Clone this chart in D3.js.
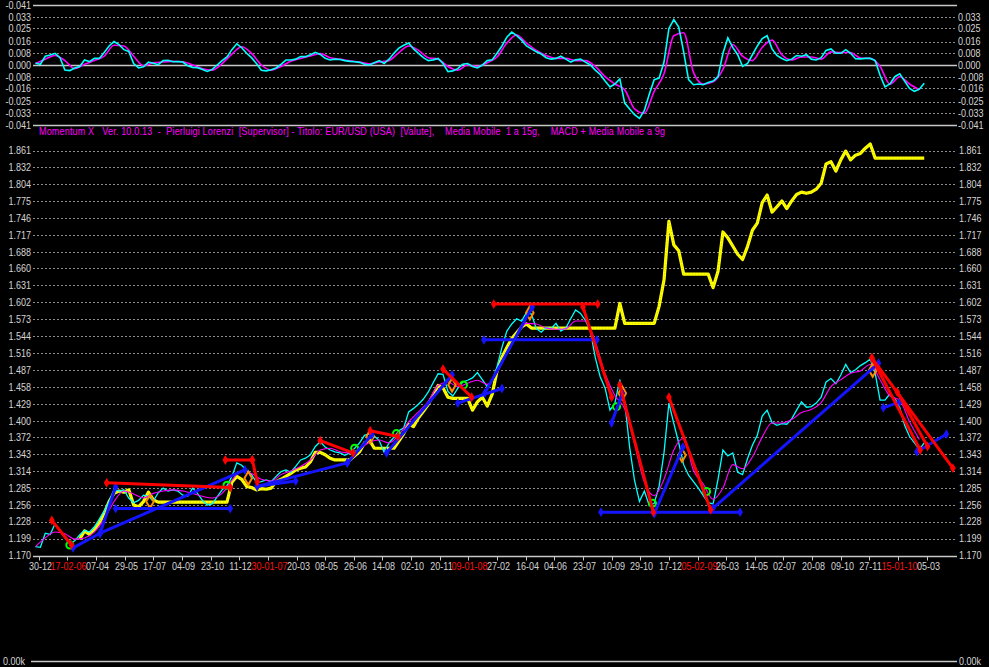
<!DOCTYPE html>
<html><head><meta charset="utf-8">
<script src="https://cdn.jsdelivr.net/npm/d3@7"></script>
<style>html,body{margin:0;padding:0;background:#000;overflow:hidden}svg{display:block}
text{font-family:"Liberation Sans",Arial,sans-serif;font-size:11px;white-space:pre}</style>
</head><body>
<svg id="c" width="989" height="667"></svg>
<script>
// ---------------- data ----------------
const titleText = "Momentum X   Ver. 10.0.13  -  Pierluigi Lorenzi  [Supervisor] - Titolo: EUR/USD (USA)  [Valute],    Media Mobile  1 a 15g,    MACD + Media Mobile a 9g";

const dateLabels = ["30-12","17-02-06","07-04","29-05","17-07","04-09","23-10","11-12","30-01-07","20-03","08-05","26-06","14-08","02-10","20-11","09-01-08","27-02","16-04","04-06","23-07","10-09","29-10","17-12","05-02-09","26-03","14-05","02-07","20-08","09-10","27-11","15-01-10","05-03"];
const TICK_START = 7, TICK_STEP = 35;          // sessions
const TOTAL_SESSIONS = 1129;
const SAMPLE_START = 3, SAMPLE_STEP = 6, MA_STEP = 12;

const priceTicks = [1.170,1.199,1.228,1.256,1.285,1.314,1.343,1.372,1.400,1.429,1.458,1.487,1.516,1.544,1.573,1.602,1.631,1.660,1.688,1.717,1.746,1.775,1.804,1.832,1.861];
const oscTicks = [0.041,0.033,0.025,0.016,0.008,0,-0.008,-0.016,-0.025,-0.033,-0.041];
const oscTickLabels = ["-0.041","0.033","0.025","0.016","0.008","0.000","-0.008","-0.016","-0.025","-0.033","-0.041"];

// EUR/USD close (cyan), one value every 6 sessions
const close = [
1.185,1.184,1.208,1.206,1.224,1.213,1.200,1.190,1.195,1.205,
1.213,1.210,1.219,1.232,1.246,1.262,1.283,1.280,1.282,1.268,
1.260,1.264,1.273,1.271,1.263,1.277,1.285,1.280,1.282,1.280,
1.273,1.271,1.285,1.276,1.264,1.256,1.258,1.270,1.282,1.289,
1.305,1.328,1.324,1.315,1.308,1.295,1.296,1.299,1.296,1.305,
1.313,1.316,1.312,1.322,1.333,1.336,1.342,1.356,1.364,1.355,
1.350,1.347,1.345,1.341,1.345,1.353,1.362,1.375,1.378,1.374,
1.366,1.346,1.362,1.372,1.383,1.388,1.415,1.421,1.428,1.437,
1.449,1.465,1.480,1.479,1.450,1.442,1.455,1.466,1.469,1.473,
1.482,1.470,1.458,1.468,1.492,1.525,1.553,1.565,1.574,1.570,
1.585,1.582,1.557,1.551,1.559,1.557,1.566,1.553,1.558,1.574,
1.589,1.583,1.571,1.553,1.508,1.475,1.456,1.418,1.430,1.470,
1.432,1.355,1.298,1.262,1.280,1.255,1.259,1.288,1.345,1.430,
1.395,1.362,1.325,1.307,1.296,1.285,1.272,1.260,1.258,1.300,
1.350,1.340,1.345,1.312,1.308,1.335,1.358,1.375,1.408,1.418,
1.397,1.392,1.395,1.394,1.403,1.418,1.432,1.423,1.424,1.430,
1.440,1.466,1.472,1.463,1.478,1.496,1.482,1.487,1.494,1.499,
1.505,1.481,1.435,1.435,1.446,1.438,1.423,1.392,1.373,1.362,
1.351,1.362];

// second instrument (thick yellow), same grid
const yellow = [
null,null,null,null,null,null,null,null,null,1.198,
1.212,1.206,1.214,1.226,1.242,1.262,1.276,1.280,1.278,1.282,
1.256,1.253,1.262,1.278,1.265,1.261,1.261,1.261,1.261,1.261,
1.261,1.261,1.261,1.261,1.261,1.261,1.261,1.261,1.261,1.261,
1.295,1.305,1.300,1.288,1.286,1.282,1.284,1.283,1.285,1.296,
1.300,1.305,1.310,1.316,1.319,1.321,1.330,1.346,1.346,1.342,
1.336,1.333,1.333,1.333,1.333,1.340,1.347,1.362,1.367,1.353,
1.353,1.353,1.353,1.353,1.365,1.378,1.394,1.390,1.405,1.416,
1.428,1.444,1.460,1.456,1.440,1.438,1.438,1.438,1.438,1.418,
1.432,1.440,1.425,1.445,1.485,1.508,1.525,1.540,1.550,1.560,
1.565,1.558,1.558,1.558,1.558,1.558,1.558,1.558,1.558,1.558,
1.558,1.558,1.558,1.558,1.558,1.558,1.558,1.558,1.558,1.600,
1.566,1.566,1.566,1.566,1.566,1.566,1.566,1.595,1.640,1.740,
1.700,1.690,1.650,1.650,1.650,1.650,1.650,1.650,1.627,1.655,
1.722,1.712,1.698,1.684,1.675,1.697,1.725,1.737,1.772,1.785,
1.756,1.765,1.775,1.762,1.775,1.786,1.790,1.788,1.790,1.795,
1.805,1.838,1.842,1.826,1.845,1.860,1.845,1.853,1.856,1.865,
1.872,1.848,1.848,1.848,1.848,1.848,1.848,1.848,1.848,1.848,
1.848,1.848];

// 15-day moving average (magenta), one value every 12 sessions
const ma15 = [
1.185,1.200,1.210,1.207,1.198,1.200,1.210,1.232,1.262,1.280,
1.275,1.268,1.276,1.280,1.282,1.280,1.276,1.271,1.268,1.276,
1.298,1.315,1.310,1.300,1.297,1.308,1.314,1.322,1.333,1.350,
1.353,1.347,1.345,1.352,1.363,1.367,1.362,1.376,1.398,1.415,
1.433,1.460,1.466,1.458,1.464,1.469,1.462,1.482,1.515,1.545,
1.566,1.565,1.558,1.556,1.557,1.570,1.570,1.535,1.480,1.443,
1.420,1.360,1.295,1.272,1.300,1.350,1.370,1.315,1.292,1.266,
1.285,1.325,1.318,1.338,1.372,1.396,1.396,1.402,1.414,1.419,
1.431,1.458,1.470,1.481,1.485,1.496,1.470,1.442,1.435,1.398,
1.368];

// MACD (cyan, top panel), every 6 sessions
const macd = [
0.0012,0.0005,0.0060,0.0068,0.0080,0.0050,-0.0034,-0.0038,-0.0020,-0.0010,
0.0034,0.0023,0.0045,0.0045,0.0085,0.0130,0.0160,0.0140,0.0105,0.0093,
0.0010,-0.0020,-0.0012,0.0020,0.0012,0.0002,0.0030,0.0032,0.0022,0.0023,
0.0020,-0.0005,-0.0016,-0.0018,-0.0030,-0.0044,-0.0030,0.0000,0.0030,0.0055,
0.0105,0.0145,0.0118,0.0080,0.0050,0.0010,-0.0036,-0.0040,-0.0032,-0.0020,
0.0005,0.0034,0.0034,0.0040,0.0057,0.0057,0.0070,0.0087,0.0072,0.0046,
0.0034,0.0040,0.0038,0.0030,0.0025,0.0022,0.0018,0.0005,0.0000,0.0015,
0.0030,0.0010,0.0040,0.0080,0.0115,0.0135,0.0150,0.0110,0.0080,0.0050,
0.0030,0.0035,0.0045,0.0010,-0.0045,-0.0040,-0.0025,0.0005,0.0010,-0.0010,
-0.0020,0.0000,0.0030,0.0035,0.0080,0.0130,0.0190,0.0225,0.0200,0.0170,
0.0130,0.0110,0.0090,0.0075,0.0050,0.0040,0.0045,0.0060,0.0040,0.0020,
0.0035,0.0040,0.0020,0.0000,-0.0035,-0.0065,-0.0110,-0.0150,-0.0130,-0.0095,
-0.0260,-0.0300,-0.0340,-0.0365,-0.0310,-0.0200,-0.0100,-0.0090,0.0020,0.0250,
0.0310,0.0260,0.0090,-0.0100,-0.0135,-0.0130,-0.0135,-0.0120,-0.0110,-0.0080,
0.0080,0.0185,0.0120,0.0070,-0.0010,0.0010,0.0070,0.0130,0.0180,0.0200,
0.0110,0.0065,0.0045,0.0030,0.0040,0.0065,0.0060,0.0070,0.0040,0.0034,
0.0050,0.0100,0.0110,0.0080,0.0080,0.0105,0.0080,0.0043,0.0042,0.0045,
0.0045,0.0030,-0.0070,-0.0150,-0.0130,-0.0080,-0.0060,-0.0110,-0.0160,-0.0180,
-0.0165,-0.0125];

// MACD signal, 9-day average (magenta, top panel), every 12 sessions
const signal = [
0.0010,0.0040,0.0065,0.0030,-0.0025,0.0005,0.0030,0.0060,0.0135,0.0130,
0.0060,-0.0005,0.0015,0.0020,0.0025,0.0022,0.0000,-0.0025,-0.0035,0.0010,
0.0075,0.0125,0.0080,0.0000,-0.0035,-0.0010,0.0025,0.0045,0.0062,0.0078,
0.0050,0.0040,0.0028,0.0020,0.0008,0.0020,0.0030,0.0085,0.0130,0.0100,
0.0050,0.0040,-0.0010,-0.0035,0.0000,-0.0010,0.0015,0.0055,0.0150,0.0205,
0.0150,0.0100,0.0065,0.0045,0.0045,0.0030,0.0030,-0.0010,-0.0080,-0.0130,
-0.0170,-0.0300,-0.0330,-0.0180,-0.0060,0.0200,0.0220,-0.0050,-0.0130,-0.0115,
-0.0030,0.0140,0.0060,0.0030,0.0120,0.0170,0.0070,0.0035,0.0055,0.0055,
0.0040,0.0090,0.0085,0.0085,0.0048,0.0045,-0.0010,-0.0130,-0.0080,-0.0130,
-0.0170];

// trend lines: [session1, price1, session2, price2]
const redLines = [
[23,1.230,47,1.188],[90,1.294,241,1.286],[235,1.333,268,1.333],[268,1.333,274,1.296],
[351,1.366,391,1.345],[412,1.383,446,1.373],[501,1.488,536,1.440],[563,1.599,690,1.599],
[672,1.594,707,1.440],[717,1.461,758,1.244],[777,1.440,828,1.248],
[1025,1.507,1124,1.319],[1025,1.507,1084,1.350],[1056,1.449,1093,1.356]];
const blueLines = [
[49,1.183,82,1.208],[82,1.208,259,1.316],[82,1.208,101,1.287],[101,1.250,241,1.250],
[274,1.288,321,1.297],[274,1.288,384,1.328],[384,1.328,414,1.376],[432,1.345,512,1.478],
[519,1.430,573,1.455],[552,1.447,610,1.594],[551,1.538,689,1.538],[707,1.396,720,1.447],
[759,1.241,794,1.355],[694,1.244,864,1.244],[831,1.251,1033,1.498],[1039,1.422,1059,1.432],
[1080,1.347,1116,1.377]];
// signal markers: [session, price]
const orangeMarks = [[143,1.262],[263,1.302],[412,1.373],[512,1.461],[607,1.584],[720,1.447],[793,1.341],[1026,1.486]];
const greenMarks = [[45,1.188],[237,1.290],[393,1.353],[444,1.378],[526,1.461],[713,1.424],[757,1.259],[823,1.279]];

// ---------------- drawing ----------------
const W = 989, H = 667;
const SX = 0.82;   // horizontal compression of the narrow bitmap-like font
const svg = d3.select("#c");
svg.append("rect").attr("width", W).attr("height", H).attr("fill", "#000");

const x = d3.scaleLinear().domain([0, TOTAL_SESSIONS]).range([33, 957]);
const yP = d3.scaleLinear().domain([1.170, 1.861]).range([555.5, 150.5]);
const yO = d3.scaleLinear().domain([-0.041, 0.041]).range([125, 5]);
const crisp = v => Math.round(v) + 0.5;
const GRID = "#8c8c8c", AXIS = "#c8c8c8", LBL = "#d4d4d4";

function label(g, px, py, str, anchor, color, size) {
  return g.append("text")
    .attr("transform", `translate(${px},${py}) scale(${SX},1)`)
    .attr("text-anchor", anchor).attr("dominant-baseline", "central")
    .attr("font-size", size || 11).attr("fill", color).text(str);
}

// ---- top oscillator panel ----
const gO = svg.append("g");
oscTicks.forEach((t, k) => {
  const yy = crisp(yO(t));
  const solid = (k === 0 || k === oscTicks.length - 1 || t === 0);
  gO.append("line").attr("x1", 33).attr("x2", 957).attr("y1", yy).attr("y2", yy)
    .attr("stroke", solid ? AXIS : GRID).attr("stroke-width", solid ? 1.5 : 1)
    .attr("stroke-dasharray", solid ? null : "2,2");
  label(gO, 31, yO(t), oscTickLabels[k], "end", LBL);
  if (k > 0) label(gO, 958, yO(t), oscTickLabels[k], "start", LBL);
});
const lineO6 = d3.line().x((d, i) => x(SAMPLE_START + i * SAMPLE_STEP)).y(d => yO(d));
const lineO12 = d3.line().x((d, i) => x(SAMPLE_START + i * MA_STEP)).y(d => yO(d)).curve(d3.curveMonotoneX);
gO.append("path").attr("d", lineO12(signal)).attr("fill", "none").attr("stroke", "#ff00ff").attr("stroke-width", 1.6);
gO.append("path").attr("d", lineO6(macd)).attr("fill", "none").attr("stroke", "#00ffff").attr("stroke-width", 1.6);

// title
svg.append("text").attr("transform", `translate(39,131) scale(${SX},1)`)
  .attr("dominant-baseline", "central").attr("fill", "#ff00ff")
  .attr("textLength", 626 / SX).attr("lengthAdjust", "spacing").text(titleText);

// ---- main price panel ----
const gP = svg.append("g");
priceTicks.forEach((t, k) => {
  const yy = crisp(yP(t));
  if (k > 0)
    gP.append("line").attr("x1", 33).attr("x2", 957).attr("y1", yy).attr("y2", yy)
      .attr("stroke", GRID).attr("stroke-dasharray", "2,2");
  label(gP, 31, yP(t), t.toFixed(3), "end", LBL);
  label(gP, 959, yP(t), t.toFixed(3), "start", LBL);
});
// x axis
const axisY = crisp(yP(1.170));
gP.append("line").attr("x1", 33).attr("x2", 957).attr("y1", axisY).attr("y2", axisY)
  .attr("stroke", AXIS).attr("stroke-width", 1.5);
dateLabels.forEach((lbl, k) => {
  const xx = crisp(x(TICK_START + k * TICK_STEP));
  gP.append("line").attr("x1", xx).attr("x2", xx).attr("y1", axisY).attr("y2", axisY + 4)
    .attr("stroke", AXIS);
  label(gP, xx + 1, 566, lbl, "middle", lbl.length > 5 ? "#ff1010" : LBL);
});

const line6 = d3.line().defined(d => d != null)
  .x((d, i) => x(SAMPLE_START + i * SAMPLE_STEP)).y(d => yP(d));
const line12 = d3.line().x((d, i) => x(SAMPLE_START + i * MA_STEP)).y(d => yP(d)).curve(d3.curveMonotoneX);

gP.append("path").attr("d", line6(yellow)).attr("fill", "none").attr("stroke", "#ffff00")
  .attr("stroke-width", 3.2).attr("stroke-linejoin", "round");
gP.append("path").attr("d", line6(yellow)).attr("fill", "none").attr("stroke", "#b8b800")
  .attr("stroke-width", 1).attr("stroke-dasharray", "1,2").attr("opacity", 0.6);
gP.append("path").attr("d", line6(close)).attr("fill", "none").attr("stroke", "#00ffff").attr("stroke-width", 1.3);
gP.append("path").attr("d", line12(ma15)).attr("fill", "none").attr("stroke", "#ff00ff").attr("stroke-width", 1.1);

// markers
gP.selectAll(".om").data(orangeMarks).enter().append("path")
  .attr("transform", d => `translate(${x(d[0])},${yP(d[1])})`)
  .attr("d", d3.symbol().type(d3.symbolDiamond).size(50)).attr("fill", "none")
  .attr("stroke", "#ff8c00").attr("stroke-width", 2);
gP.selectAll(".gm").data(greenMarks).enter().append("circle")
  .attr("cx", d => x(d[0])).attr("cy", d => yP(d[1])).attr("r", 3.5)
  .attr("fill", "none").attr("stroke", "#00ff00").attr("stroke-width", 2);

function drawSegs(segs, color) {
  segs.forEach(s => {
    gP.append("line").attr("x1", x(s[0])).attr("y1", yP(s[1])).attr("x2", x(s[2])).attr("y2", yP(s[3]))
      .attr("stroke", color).attr("stroke-width", 3).attr("stroke-linecap", "round");
    [[s[0], s[1]], [s[2], s[3]]].forEach(p => {
      gP.append("path").attr("transform", `translate(${x(p[0])},${yP(p[1])})`)
        .attr("d", d3.symbol().type(d3.symbolDiamond).size(28)).attr("fill", color);
    });
  });
}
drawSegs(blueLines, "#1414ff");
drawSegs(redLines, "#ff0000");

// ---- bottom volume panel ----
svg.append("line").attr("x1", 31).attr("x2", 957).attr("y1", 661.5).attr("y2", 661.5)
  .attr("stroke", AXIS).attr("stroke-width", 1.5);
label(svg, 3, 661, "0.00k", "start", LBL, 10);
label(svg, 959, 661, "0.00k", "start", LBL, 10);
</script>
</body></html>
